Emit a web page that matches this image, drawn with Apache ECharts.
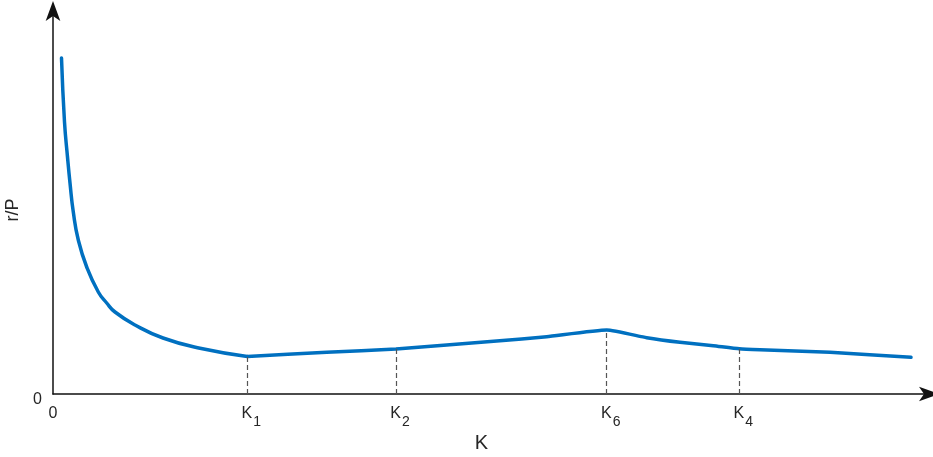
<!DOCTYPE html>
<html>
<head>
<meta charset="utf-8">
<script src="https://cdn.jsdelivr.net/npm/echarts@6/dist/echarts.min.js"></script>
<style>
html,body{margin:0;padding:0;background:#fff;}
#chart{width:933px;height:457px;}
</style>
</head>
<body>
<div id="chart"></div>
<script>
// Curve K -> r/P (arbitrary units)
const kValues = [8.5, 11.5, 14.5, 17, 20.3, 25.3, 33.7, 45.3, 53.7, 62, 82, 110, 147, 194.3, 273.7, 343, 393.7, 443.7, 493.7, 553.7, 593.7, 627, 660.3, 686.3, 707, 777, 858];
const rpValues = [336, 272, 237, 211, 182, 154, 127, 102, 91, 82, 69, 56, 45.7, 37.5, 41.7, 45, 49, 53, 57.3, 64, 56.3, 51.7, 48.3, 45.3, 44.3, 41.7, 36.7];

// Marked K points
const markNames = ['K_1', 'K_2', 'K_6', 'K_4'];
const markK = [194.3, 343, 553.7, 686.3];
const markRP = [37.5, 45, 64, 45.3];

const xTickValues = [0].concat(markK);
const xTickLabels = ['0'].concat(markNames);
const yTickValues = [0];
const yTickLabels = ['0'];

const xAxisName = 'K';
const yAxisName = 'r/P';

const chart = echarts.init(document.getElementById('chart'), null, {renderer: 'canvas'});
const font = 'Liberation Sans, Arial, sans-serif';
const textColor = '#262626';
const lineColor = '#0070C0';

function fmtX(value) {
  let idx = -1;
  for (let i = 0; i < xTickValues.length; i++) {
    if (Math.abs(xTickValues[i] - value) < 1e-6) idx = i;
  }
  if (idx < 0) return '';
  const lab = xTickLabels[idx];
  const parts = lab.split('_');
  if (parts.length === 2) {
    return '{p| }{k|' + parts[0] + '}{s|' + parts[1] + '}';
  }
  return '{k|' + lab + '}';
}

const pts = kValues.map((k, i) => [k, rpValues[i]]);
const splitIdx = kValues.indexOf(markK[0]);  // curve bends sharply at K1
const decayPart = pts.slice(0, splitIdx + 1);
const restPart = pts.slice(splitIdx);

const option = {
  animation: false,
  backgroundColor: '#fff',
  grid: {left: 53, right: 3, top: 10, bottom: 63, containLabel: false, outerBoundsMode: 'none'},
  xAxis: {
    type: 'value',
    min: 0,
    max: 877,
    name: xAxisName,
    nameLocation: 'middle',
    nameGap: 37,
    nameTextStyle: {fontFamily: font, fontSize: 20, color: textColor, padding: [0, 20, 0, 0]},
    axisLine: {show: true, onZero: false, symbol: ['none', 'arrow'], symbolSize: [11, 20], symbolOffset: [0, 9], lineStyle: {color: '#111', width: 1.5}},
    axisTick: {show: false},
    splitLine: {show: false},
    axisLabel: {
      customValues: xTickValues,
      margin: 12,
      formatter: fmtX,
      fontFamily: font,
      color: textColor,
      rich: {
        p: {width: 8, fontSize: 16, lineHeight: 18, verticalAlign: 'top', fontFamily: font},
        k: {fontSize: 16, lineHeight: 18, verticalAlign: 'top', color: textColor, fontFamily: font},
        s: {fontSize: 14, lineHeight: 18, padding: [9, 0, 0, 1], verticalAlign: 'top', color: textColor, fontFamily: font}
      }
    }
  },
  yAxis: {
    type: 'value',
    min: 0,
    max: 384,
    name: yAxisName,
    nameLocation: 'middle',
    nameGap: 30,
    nameTextStyle: {fontFamily: font, fontSize: 18, color: textColor, padding: [0, 16, 0, 0]},
    axisLine: {show: true, onZero: false, symbol: ['none', 'arrow'], symbolSize: [11, 20], symbolOffset: [0, 9], lineStyle: {color: '#111', width: 1.5}},
    axisTick: {show: false},
    splitLine: {show: false},
    axisLabel: {
      customValues: yTickValues,
      margin: 11,
      formatter: function (v) { const i = yTickValues.indexOf(v); return i >= 0 ? '{z|' + yTickLabels[i] + '}' : ''; },
      fontFamily: font,
      fontSize: 16,
      color: textColor,
      rich: {
        z: {fontSize: 16, lineHeight: 16, padding: [11, 0, 0, 0], color: textColor, fontFamily: font}
      }
    }
  },
  series: [{
    type: 'line',
    data: decayPart,
    showSymbol: false,
    smooth: 0.5,
    lineStyle: {color: lineColor, width: 3.5, cap: 'round', join: 'round'},
    itemStyle: {color: lineColor},
    z: 3
  }, {
    type: 'line',
    data: restPart,
    showSymbol: false,
    smooth: 0.15,
    lineStyle: {color: lineColor, width: 3.5, cap: 'round', join: 'round'},
    itemStyle: {color: lineColor},
    z: 3,
    markLine: {
      silent: true,
      symbol: ['none', 'none'],
      label: {show: false},
      lineStyle: {type: [5, 3], color: '#555', width: 1.2},
      emphasis: {disabled: true},
      data: markK.map((k, i) => [{coord: [k, 0]}, {coord: [k, markRP[i]]}])
    }
  }]
};
chart.setOption(option);
</script>
</body>
</html>
